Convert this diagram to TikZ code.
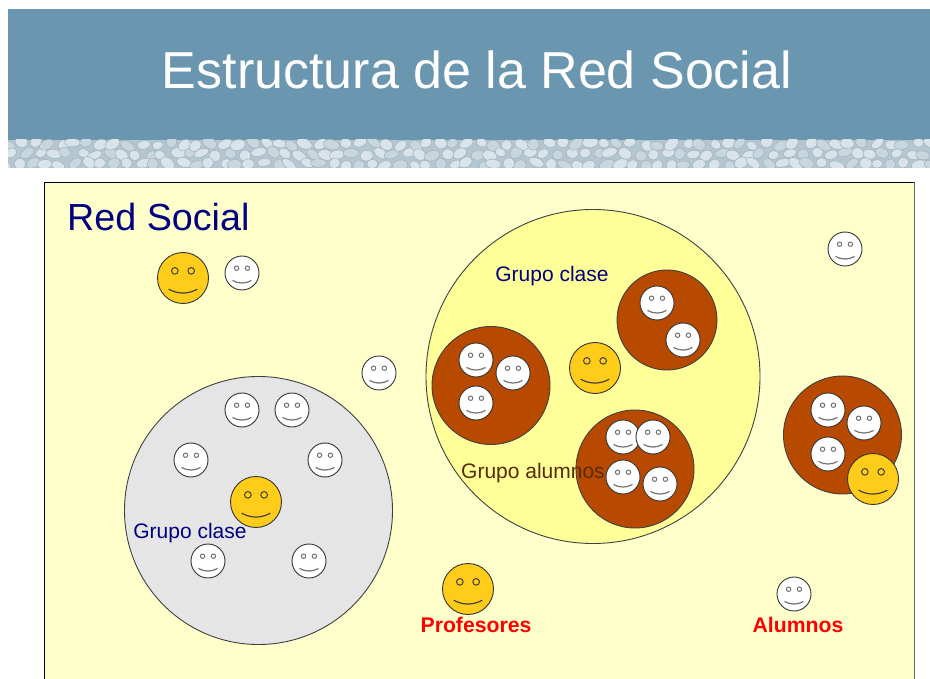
\documentclass[tikz,border=0pt]{standalone}
\usepackage{fontspec}
\setmainfont{Liberation Sans}
\definecolor{band}{HTML}{6B96B0}
\definecolor{panel}{HTML}{FFFFCC}
\definecolor{inner}{HTML}{FFFF99}
\definecolor{rust}{HTML}{B84A00}
\definecolor{gold}{HTML}{FFCC1A}
\definecolor{navy}{HTML}{000080}
\definecolor{grisa}{HTML}{E5E5E5}
\definecolor{stonebase}{HTML}{B4C6D0}
\definecolor{stonea}{HTML}{D9E4EA}
\definecolor{stoneb}{HTML}{C8D6DE}
\definecolor{labelbrown}{HTML}{5A2A00}
\tikzset{
  x=1pt,y=-1pt,
  group/.style={draw=black!75,line width=.9pt},
  stone/.style={draw=stonebase!90!black,line width=.5pt},
  lab/.style={inner sep=0pt,font=\fontsize{21}{21}\selectfont},
  boldlab/.style={inner sep=0pt,text=red,font=\fontsize{21.2}{21}\selectfont\bfseries},
}
% cx, cy, radius, fill, feature colour
\newcommand{\face}[5]{%
  \begin{scope}[shift={(#1,#2)}]
    \fill[#4,draw=black!80,line width=.9pt] (0,0) circle[radius=#3];
    \draw[#5,line width=1pt] ({-.32*#3},{-.28*#3}) circle[radius={.13*#3}];
    \draw[#5,line width=1pt] ({.32*#3},{-.28*#3}) circle[radius={.13*#3}];
    \draw[#5,line width=1.2pt] ({-.56*#3},{.44*#3}) .. controls ({-.2*#3},{.64*#3}) and ({.2*#3},{.64*#3}) .. ({.56*#3},{.44*#3});
  \end{scope}}
\newcommand{\wface}[2]{\face{#1}{#2}{17}{white}{black!55}}
\newcommand{\yface}[2]{\face{#1}{#2}{25.5}{gold}{black!75}}
\begin{document}
\begin{tikzpicture}
\useasboundingbox (0,0) rectangle (930,679);
\fill[white] (0,0) rectangle (930,679);
% header
\fill[band] (8,9) rectangle (930,140);
\node[inner sep=0pt,text=white,font=\fontsize{52}{52}\selectfont] (title) at (477,70) {Estructura de la Red Social};
% pebbles
\begin{scope}
  \clip (8,140) rectangle (930,168);
  \fill[stonebase] (8,140) rectangle (930,168);
  \pgfmathsetseed{4217}
  \foreach \i in {0,...,68}{
    \foreach \j in {0,1,2}{
      \pgfmathsetmacro{\px}{6+\i*13.6+mod(\j,2)*7+rand*3}
      \pgfmathsetmacro{\py}{144+\j*10+rand*2}
      \pgfmathsetmacro{\ra}{6.8+rand*1.4}
      \pgfmathsetmacro{\rb}{4.8+rand*.8}
      \pgfmathsetmacro{\rot}{rand*40}
      \pgfmathtruncatemacro{\pick}{mod(\i+2*\j,3)}
      \ifnum\pick=0 \def\sc{stoneb}\else\def\sc{stonea}\fi
      \filldraw[fill=\sc,stone,rotate around={\rot:(\px,\py)}] (\px,\py) ellipse[x radius=\ra,y radius=\rb];
    }
  }
\end{scope}
% panel
\fill[panel] (44,182) rectangle (914,679);
\draw[black,line width=.9pt] (44,679) -- (44,182) -- (914,182);
\draw[black!60,line width=.9pt] (914,182) -- (914,679);
\node[inner sep=0pt,anchor=base west,text=navy,font=\fontsize{37.7}{38}\selectfont] (red) at (67,230.5) {Red Social};
% gray group
\filldraw[fill=grisa,group] (258.5,510.5) circle[radius=134];
\wface{242}{410}\wface{292}{410}\wface{191}{460}\wface{325}{460}
\wface{208}{561}\wface{309}{561}
\yface{256}{502}
\node[lab,text=navy] (gc2) at (190,533) {Grupo clase};
% big group
\filldraw[fill=inner,group] (593,376.5) circle[radius=167];
\node[lab,text=navy] (gc1) at (552,276) {Grupo clase};
\filldraw[fill=rust,group] (491,385.5) circle[radius=59];
\filldraw[fill=rust,group] (667,320) circle[radius=50];
\filldraw[fill=rust,group] (635,469) circle[radius=59];
\node[lab,text=labelbrown] (ga) at (533,473) {Grupo alumnos};
\wface{476}{360}\wface{513}{373}\wface{476}{403}
\wface{657}{303}\wface{683}{340}
\wface{623}{437}\wface{653}{437}\wface{623}{477}\wface{660}{484}
\yface{595}{368}
% right group
\filldraw[fill=rust,group] (842.5,435) circle[radius=59];
\wface{828}{410}\wface{864}{423}\wface{828}{454}
\yface{873}{479}
% loose
\yface{183}{278}
\wface{242}{273}\wface{845}{249}\wface{379}{373}
\yface{468}{589}
\wface{794}{594}
\node[boldlab] (prof) at (476,625) {Profesores};
\node[boldlab] (alum) at (798,625) {Alumnos};
\end{tikzpicture}
\end{document}
